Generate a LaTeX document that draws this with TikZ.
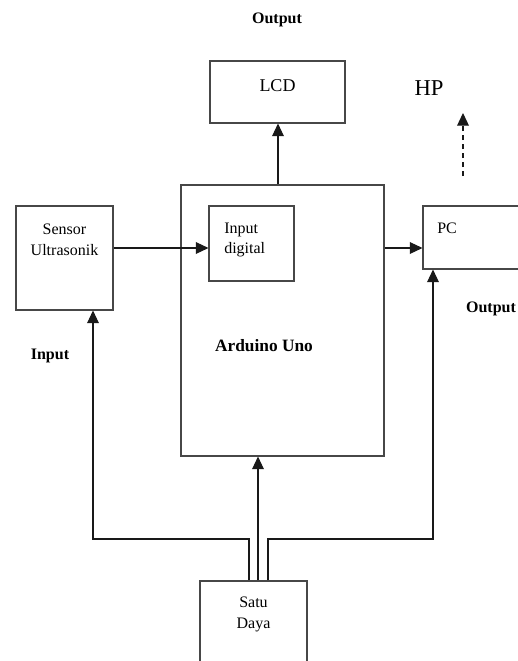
\documentclass[tikz,border=0pt]{standalone}
\usepackage{fontspec}
\setmainfont{Liberation Serif}
\usetikzlibrary{arrows.meta,calc}
\begin{document}
\begin{tikzpicture}[x=0.75pt,y=-0.75pt,
  box/.style={draw=black!72,line width=0.8pt,inner sep=0pt,fill=none},
  arr/.style={draw=black!90,line width=0.8pt,-{Triangle[length=9.5pt,width=8.8pt]}},
  txt/.style={inner sep=0pt,font=\fontsize{12}{15.5}\selectfont},
  btxt/.style={inner sep=0pt,font=\fontsize{12}{15}\selectfont\bfseries}]
\clip (0,0) rectangle (518,661);
\fill[white] (0,0) rectangle (518,661);
% boxes
\node[box,minimum width=101.25pt,minimum height=46.5pt] (lcd) at (277.5,92) {};
\node[box,minimum width=152.25pt,minimum height=203.25pt] (ard) at (282.5,320.5) {};
\node[box,minimum width=63.75pt,minimum height=56.25pt] (indig) at (251.5,243.5) {};
\node[box,minimum width=72.75pt,minimum height=78pt] (sensor) at (64.5,258) {};
\node[box,minimum width=87.75pt,minimum height=47.25pt] (pc) at (481.5,237.5) {};
\node[box,minimum width=80.25pt,minimum height=74.25pt] (sd) at (253.5,630.5) {};
% texts
\node[btxt] (tOut1) at (277,20) {Output};
\node[inner sep=0pt,font=\fontsize{13.5}{16}\selectfont] (tLcd) at (277.5,86) {LCD};
\node[inner sep=0pt,font=\fontsize{17}{20}\selectfont] (tHp) at (429,88) {HP};
\node[txt,align=center] (tSens) at (64.5,239.5) {Sensor\\Ultrasonik};
\node[txt,align=left,anchor=west] (tIn) at (224,240) {Input\\digital};
\node[txt,anchor=west] (tPc) at (437,228) {PC};
\node[btxt,font=\fontsize{13}{15}\selectfont\bfseries] (tArd) at (264,346) {Arduino Uno};
\node[btxt] (tInput) at (50,356) {Input};
\node[btxt] (tOut2) at (491,309) {Output};
\node[txt,align=center] (tSd) at (253.5,614.5) {Satu\\Daya};
% helper coordinates
\coordinate (row) at (0,248);
\coordinate (busL) at (93,539);
\coordinate (busR) at (433,539);
\coordinate (tapL) at (249,0);
\coordinate (tapM) at (258,0);
\coordinate (tapR) at (268,0);
\coordinate (top) at (278,0);
\coordinate (hpA) at (463,176);
\coordinate (hpB) at (463,113);
% connectors
\draw[arr] (ard.north -| top) -- (lcd.south -| top);
\draw[arr] (sensor.east |- row) -- (indig.west |- row);
\draw[arr] (ard.east |- row) -- (pc.west |- row);
\draw[arr] (sd.north -| tapL) |- (busL) -- (sensor.south -| busL);
\draw[arr] (sd.north -| tapR) |- (busR) -- (pc.south -| busR);
\draw[arr] (sd.north -| tapM) -- (ard.south -| tapM);
\draw[arr,dash pattern=on 3.75pt off 3pt] (hpA) -- (hpB);
\end{tikzpicture}
\end{document}
